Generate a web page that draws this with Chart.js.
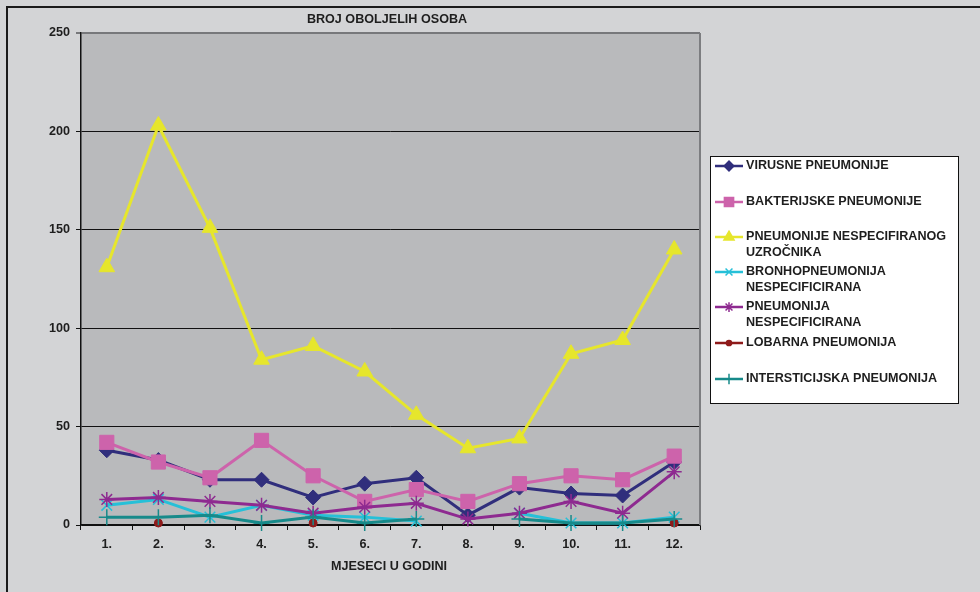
<!DOCTYPE html>
<html>
<head>
<meta charset="utf-8">
<script src="https://cdn.jsdelivr.net/npm/chart.js@4/dist/chart.umd.min.js"></script>
<style>
  html, body { margin: 0; padding: 0; background: #d3d4d6; }
  #wrap { position: relative; width: 980px; height: 592px; }
</style>
</head>
<body>
<div id="wrap"><canvas id="chart" width="980" height="592"></canvas></div>
<script>
// Broj oboljelih osoba po mjesecima

const MONTHS = ["1.", "2.", "3.", "4.", "5.", "6.", "7.", "8.", "9.", "10.", "11.", "12."];

const VIRUSNE      = [38, 33, 23, 23, 14, 21, 24, 5, 19, 16, 15, 32];
const BAKTERIJSKE  = [42, 32, 24, 43, 25, 12, 18, 12, 21, 25, 23, 35];
const NESPEC_UZR   = [131, 203, 151, 84, 91, 78, 56, 39, 44, 87, 94, 140];
const BRONHO       = [10, 13, 4, 10, 5, 4, 2, null, 6, 1, 1, 4];
const PNEUM_NESPEC = [13, 14, 12, 10, 6, 9, 11, 3, 6, 12, 6, 27];
const LOBARNA      = [null, 1, null, null, 1, null, null, null, null, null, null, 1];
const INTERST      = [4, 4, 5, 1, 4, 1, 3, null, 3, 1, 1, 3];

const Y_TICKS = [0, 50, 100, 150, 200, 250];

const SERIES = [
  { label: ["VIRUSNE PNEUMONIJE"], data: VIRUSNE, color: "#302e7c", style: "rectRot", r: 7.5 },
  { label: ["BAKTERIJSKE PNEUMONIJE"], data: BAKTERIJSKE, color: "#cd63ab", style: "rect", r: 10 },
  { label: ["PNEUMONIJE NESPECIFIRANOG", "UZROČNIKA"], data: NESPEC_UZR, color: "#e6e62c", style: "triangle", r: 9 },
  { label: ["BRONHOPNEUMONIJA", "NESPECIFICIRANA"], data: BRONHO, color: "#26c0d8", style: "crossRot", r: 7.5 },
  { label: ["PNEUMONIJA", "NESPECIFICIRANA"], data: PNEUM_NESPEC, color: "#8e2a90", style: "star", r: 7.5 },
  { label: ["LOBARNA PNEUMONIJA"], data: LOBARNA, color: "#8e1a1a", style: "circle", r: 4 },
  { label: ["INTERSTICIJSKA PNEUMONIJA"], data: INTERST, color: "#178a8a", style: "cross", r: 8 },
];

const FONT = "'Liberation Sans', Arial, sans-serif";
const TEXT_CLR = "#1e1e1e";
const FONT_SIZE = 12.6;

// ─── Frame, plot background, title, axis title, legend ──────────────────────

const framePlugin = {
  id: "frame",
  beforeDraw(chart) {
    const { ctx, chartArea: a } = chart;
    ctx.save();
    ctx.fillStyle = "#d3d4d6";
    ctx.fillRect(0, 0, chart.width, chart.height);
    // outer border (top + left visible)
    ctx.fillStyle = "#1a1a1a";
    ctx.fillRect(7, 6, chart.width - 7, 2);
    ctx.fillRect(6, 6, 2, chart.height - 6);
    // plot area
    ctx.fillStyle = "#b9babc";
    ctx.fillRect(a.left, a.top, a.right - a.left, a.bottom - a.top);
    ctx.restore();
  },
  afterDraw(chart) {
    const { ctx, chartArea: a } = chart;
    ctx.save();
    // right edge of plot area
    ctx.strokeStyle = "#7c7d80";
    ctx.lineWidth = 2;
    ctx.beginPath();
    ctx.moveTo(a.right, a.top);
    ctx.lineTo(a.right, a.bottom);
    ctx.stroke();

    ctx.fillStyle = TEXT_CLR;
    ctx.font = `bold ${FONT_SIZE}px ${FONT}`;
    ctx.textAlign = "center";
    ctx.textBaseline = "middle";
    ctx.fillText("BROJ OBOLJELIH OSOBA", 387, 20);
    ctx.fillText("MJESECI U GODINI", 389, 567);

    drawLegend(chart);
    ctx.restore();
  },
};

const LEGEND_Y = [166, 202, 237, 272, 307, 343, 379];

function drawLegend(chart) {
  const ctx = chart.ctx;
  ctx.save();
  ctx.fillStyle = "#ffffff";
  ctx.fillRect(710, 156, 248, 247);
  ctx.strokeStyle = "#111111";
  ctx.lineWidth = 1;
  ctx.strokeRect(710.5, 156.5, 248, 247);

  SERIES.forEach((s, i) => {
    const y = LEGEND_Y[i];
    ctx.strokeStyle = s.color;
    ctx.lineWidth = 2.5;
    ctx.beginPath();
    ctx.moveTo(715, y);
    ctx.lineTo(743, y);
    ctx.stroke();
    ctx.fillStyle = s.color;
    ctx.lineWidth = 1.5;
    Chart.helpers.drawPoint(ctx, { pointStyle: s.style, radius: s.r * 0.65, rotation: 0, borderWidth: 1.5 }, 729, y);
    ctx.fillStyle = TEXT_CLR;
    ctx.font = `bold ${FONT_SIZE}px ${FONT}`;
    ctx.textAlign = "left";
    ctx.textBaseline = "middle";
    s.label.forEach((ln, j) => ctx.fillText(ln, 746, y + j * 15.5));
  });
  ctx.restore();
}

// ─── Chart ───────────────────────────────────────────────────────────────────

const datasets = SERIES.map((s, i) => ({
  label: s.label.join(" "),
  data: s.data,
  borderColor: s.color,
  backgroundColor: s.color,
  borderWidth: 3,
  pointStyle: s.style,
  pointRadius: s.r,
  pointBorderWidth: s.style === "cross" || s.style === "crossRot" || s.style === "star" ? 1.5 : 1,
  pointBorderColor: s.color,
  pointBackgroundColor: s.color,
  tension: 0,
  spanGaps: false,
  order: 10 - i,
  clip: false,
}));

new Chart(document.getElementById("chart"), {
  type: "line",
  data: { labels: MONTHS, datasets },
  options: {
    responsive: false,
    animation: false,
    events: [],
    layout: { padding: { top: 33, right: 280, left: 0, bottom: 0 } },
    plugins: {
      legend: { display: false },
      title: { display: false },
      tooltip: { enabled: false },
    },
    scales: {
      x: {
        offset: true,
        afterFit: (s) => { s.height = 67; },
        grid: {
          display: true,
          offset: true,
          drawOnChartArea: false,
          drawTicks: true,
          tickLength: 5,
          color: "#111111",
        },
        border: { color: "#111111", width: 1.5 },
        ticks: {
          color: TEXT_CLR,
          font: { family: FONT, size: FONT_SIZE, weight: "bold" },
          padding: 7,
          maxRotation: 0,
        },
      },
      y: {
        min: 0,
        max: 250,
        afterFit: (s) => { s.width = 81; },
        afterBuildTicks: (s) => { s.ticks = Y_TICKS.map((v) => ({ value: v })); },
        grid: {
          color: (c) => (c.tick && c.tick.value === 250 ? "#77787b" : "#111111"),
          lineWidth: (c) => (c.tick && c.tick.value === 250 ? 2 : 1),
          tickLength: 5,
        },
        border: { color: "#111111", width: 1.5 },
        ticks: {
          color: TEXT_CLR,
          font: { family: FONT, size: FONT_SIZE, weight: "bold" },
          padding: 6,
        },
      },
    },
  },
  plugins: [framePlugin],
});
</script>
</body>
</html>
